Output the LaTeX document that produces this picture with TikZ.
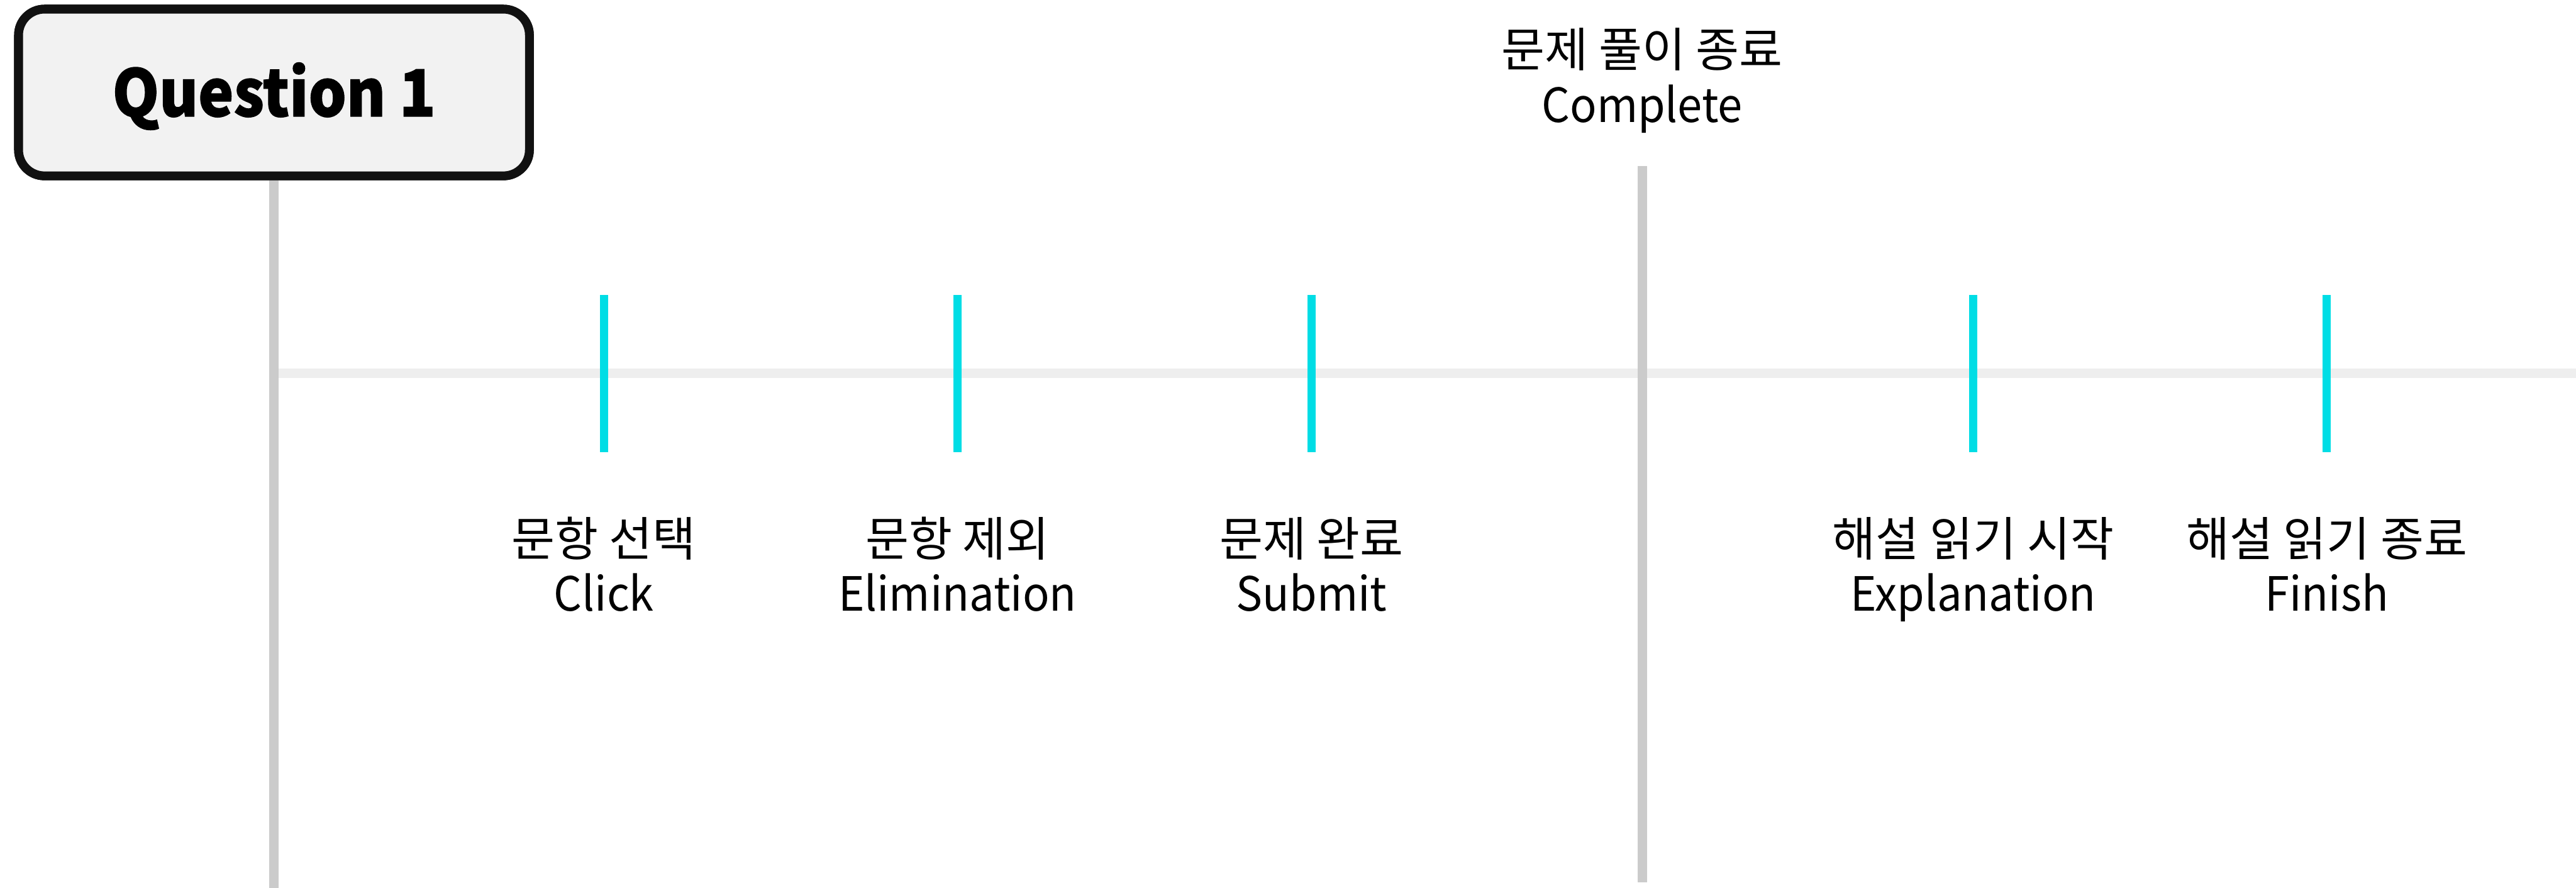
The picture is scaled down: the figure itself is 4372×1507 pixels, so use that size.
\documentclass[tikz,border=0pt]{standalone}
\usepackage{fontspec}
\setmainfont{Noto Sans CJK KR}
\newfontfamily\enfont[FakeStretch=0.94]{Noto Sans CJK KR}
\newfontfamily\qfont{Noto Sans CJK KR}[BoldFeatures={FakeStretch=0.92,FakeBold=1.2}]
\definecolor{tickcyan}{HTML}{00DDE5}
\definecolor{axisgray}{HTML}{EEEEEE}
\definecolor{linegray}{HTML}{CBCBCB}
\definecolor{boxfill}{HTML}{F2F2F2}
\definecolor{boxedge}{HTML}{111111}
\tikzset{
  qbox/.style={draw=boxedge, fill=boxfill, line width=3.75pt, rounded corners=11pt,
    minimum width=216.75pt, minimum height=70.75pt, inner sep=0pt,
    text height=20.25pt, text depth=0pt,
    font=\qfont\fontsize{27.5pt}{33pt}\selectfont\bfseries},
  krlab/.style={anchor=base, inner sep=0pt, font=\fontsize{20pt}{24pt}\selectfont},
  enlab/.style={anchor=base, inner sep=0pt, font=\enfont\fontsize{20pt}{24pt}\selectfont},
  axisline/.style={draw=axisgray, line width=4pt},
  vline/.style={draw=linegray, line width=4pt},
  tickline/.style={draw=tickcyan, line width=3.5pt},
}
\begin{document}
\begin{tikzpicture}[x=0.25pt, y=-0.25pt]
\useasboundingbox (0,0) rectangle (4372,1507);
% anchors
\coordinate (axL) at (465,634);
\coordinate (axR) at (4372,634);
\coordinate (qbot) at (465,1507);
\coordinate (ctop) at (2787,282);
\coordinate (cbot) at (2787,1498);
% axis
\draw[axisline] (axL) -- (axR);
% question box and its line
\node[qbox] (q1) at (465,157) {Question 1};
\draw[vline] (q1.south) -- (qbot);
\node[qbox] at (465,157) {Question 1};
% complete line
\draw[vline] (ctop) -- (cbot);
\node[krlab] (ck) at (2787,114) {문제 풀이 종료};
\node[enlab] (ce) at (2787,208) {Complete};
% ticks
\foreach \n/\x in {t1/1025, t2/1625, t3/2226, t4/3349, t5/3949}{
  \coordinate (\n top) at (\x,501);
  \coordinate (\n bot) at (\x,767);
  \draw[tickline] (\n top) -- (\n bot);
}
% labels
\node[krlab] (k1) at (1025,944) {문항 선택};
\node[enlab] (e1) at (1025,1037) {Click};
\node[krlab] (k2) at (1625,944) {문항 제외};
\node[enlab] (e2) at (1625,1037) {Elimination};
\node[krlab] (k3) at (2226,944) {문제 완료};
\node[enlab] (e3) at (2226,1037) {Submit};
\node[krlab] (k4) at (3349,944) {해설 읽기 시작};
\node[enlab] (e4) at (3349,1037) {Explanation};
\node[krlab] (k5) at (3949,944) {해설 읽기 종료};
\node[enlab] (e5) at (3949,1037) {Finish};
\end{tikzpicture}
\end{document}
